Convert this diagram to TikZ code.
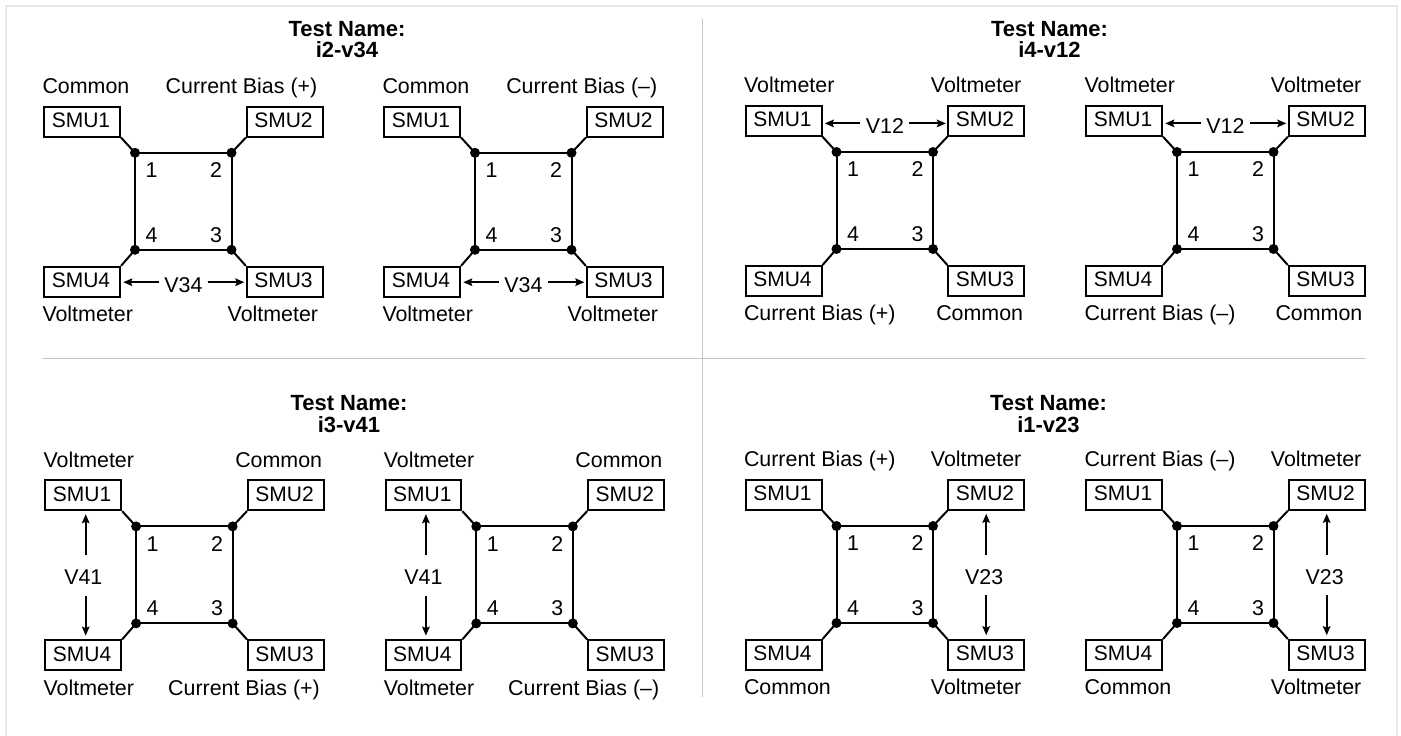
\documentclass[tikz,border=0pt]{standalone}
\usepackage{fontspec}
\setmainfont{Liberation Sans}
\usetikzlibrary{arrows.meta,calc}
\definecolor{rulegrey}{RGB}{196,196,200}
\definecolor{framegrey}{RGB}{232,232,232}
\newcommand{\lblfont}{\fontsize{21.4}{21.4}\selectfont}
\tikzset{
  x=1pt,y=-1pt,
  smu/.style={draw,line width=2pt,minimum width=75.7pt,minimum height=29.7pt,inner sep=0pt,text height=15pt,text depth=3pt,font=\fontsize{21}{21}\selectfont,fill=white},
  lbl/.style={inner sep=0pt,font=\lblfont,text height=15pt,text depth=0pt},
  ttl/.style={inner sep=0pt,align=center,font=\fontsize{22}{21.7}\selectfont\bfseries},
  dot/.style={circle,fill=black,inner sep=0pt,minimum size=10pt},
  wire/.style={line width=2pt},
  vtip/.style={line width=2pt,-{Stealth[length=9pt,width=7.5pt,inset=1.5pt]}},
}
% #1 prefix, #2 x, #3 y of SMU1 box, #4 top-left text, #5 top-right text, #6 its right edge,
% #7 bottom-left text, #8 bottom-right text, #9 its right edge
\newcommand{\rig}[9]{%
  \begin{scope}[shift={(#2,#3)}]
    \node[smu] (#1s1) at (38.7,15.7) {SMU1\kern2.4pt};
    \node[smu] (#1s2) at (241.2,15.7) {SMU2\kern2.4pt};
    \node[smu] (#1s3) at (241.2,175.7) {SMU3\kern2.4pt};
    \node[smu] (#1s4) at (38.7,175.7) {SMU4\kern2.4pt};
    \node[dot] (#1d1) at (91.5,46.8) {};
    \node[dot] (#1d2) at (188,46.8) {};
    \node[dot] (#1d3) at (188,143.8) {};
    \node[dot] (#1d4) at (91.5,143.8) {};
    \draw[wire] (#1d1.center) -- (#1d2.center) -- (#1d3.center) -- (#1d4.center) -- cycle;
    \draw[wire] (#1s1.south east) -- (#1d1.center);
    \draw[wire] (#1s2.south west) -- (#1d2.center);
    \draw[wire] (#1s3.north west) -- (#1d3.center);
    \draw[wire] (#1s4.north east) -- (#1d4.center);
    \node[lbl] (#1n1) at (108,64) {1};
    \node[lbl] (#1n2) at (172.5,64) {2};
    \node[lbl] (#1n3) at (172.5,128.5) {3};
    \node[lbl] (#1n4) at (108,128.5) {4};
    \node[lbl,anchor=west] (#1t1) at (-1.2,-20) {#4};
    \node[lbl,anchor=east] (#1t2) at (#6,-20) {#5};
    \node[lbl,anchor=west] (#1t4) at (-1.2,208) {#7};
    \node[lbl,anchor=east] (#1t3) at (#9,208) {#8};
  \end{scope}}
% horizontal voltage arrows: #1 prefix, #2 left box, #3 right box, #4 text, #5 arrow dy, #6 text dy
\newcommand{\hv}[6]{%
  \node[lbl] (#1v) at ($(#1#2.east)!0.5!(#1#3.west)+(0,#6)$) {#4};
  \coordinate (#1va) at ($(#1#2.east)!0.5!(#1#3.west)+(-24.5,#5)$);
  \coordinate (#1vb) at ($(#1#2.east)!0.5!(#1#3.west)+(24.5,#5)$);
  \draw[vtip,shorten >=2.2pt] (#1va) -- (#1va -| #1#2.east);
  \draw[vtip,shorten >=1.5pt] (#1vb) -- (#1vb -| #1#3.west);}
% vertical voltage arrows: #1 prefix, #2 top box, #3 bottom box, #4 text, #5 arrow dx, #6 text dx
\newcommand{\vv}[6]{%
  \node[lbl] (#1v) at ($(#1#2.south)!0.5!(#1#3.north)+(#6,1.8)$) {#4};
  \coordinate (#1va) at ($(#1#2.south)!0.5!(#1#3.north)+(#5,-20)$);
  \coordinate (#1vb) at ($(#1#2.south)!0.5!(#1#3.north)+(#5,20.5)$);
  \draw[vtip,shorten >=3pt] (#1va) -- (#1va |- #1#2.south);
  \draw[vtip,shorten >=3.8pt] (#1vb) -- (#1vb |- #1#3.north);}
\begin{document}
\begin{tikzpicture}
\useasboundingbox (0,0) rectangle (1401,736);
\fill[white] (0,0) rectangle (1401,736);
\coordinate (fa) at (5.5,736); \coordinate (fb) at (5.5,5.5);
\coordinate (fc) at (1397,5.5); \coordinate (fd) at (1397,736);
\draw[framegrey,line width=2pt] (fa) -- (fb) -- (fc) -- (fd);
\coordinate (vt) at (702.8,19); \coordinate (vb) at (702.8,697);
\coordinate (hl) at (41.5,358.3); \coordinate (hr) at (1365.6,358.3);
\draw[rulegrey,line width=1.1pt] (vt) -- (vb);
\draw[rulegrey,line width=1.1pt] (hl) -- (hr);
\node[ttl] (ta) at (347,39.5) {Test Name:\\i2-v34};
\node[ttl] (tb) at (1049.5,39.5) {Test Name:\\i4-v12};
\node[ttl] (tc) at (349,414) {Test Name:\\i3-v41};
\node[ttl] (td) at (1048.5,414) {Test Name:\\i1-v23};
% top left
\rig{a}{43.5}{106}{Common}{Current Bias (+)}{274}{Voltmeter}{Voltmeter}{274.8}
\hv{a}{s4}{s3}{V34}{0.5}{3.5}
\rig{b}{383.5}{106}{Common}{Current Bias (–)}{274}{Voltmeter}{Voltmeter}{274.8}
\hv{b}{s4}{s3}{V34}{0.5}{3.5}
% top right
\rig{c}{745}{105.2}{Voltmeter}{Voltmeter}{276.5}{Current Bias (+)}{Common}{278.3}
\hv{c}{s1}{s2}{V12}{2.5}{5}
\rig{d}{1085.5}{105.2}{Voltmeter}{Voltmeter}{276}{Current Bias (–)}{Common}{277}
\hv{d}{s1}{s2}{V12}{2.5}{5}
% bottom left
\rig{e}{44.6}{479.6}{Voltmeter}{Common}{277.7}{Voltmeter}{Current Bias (+)}{275.4}
\vv{e}{s1}{s4}{V41}{2.4}{0}
\rig{f}{384.8}{479.6}{Voltmeter}{Common}{277.7}{Voltmeter}{Current Bias (–)}{274.6}
\vv{f}{s1}{s4}{V41}{2.4}{0}
% bottom right
\rig{g}{745}{479.2}{Current Bias (+)}{Voltmeter}{276.5}{Common}{Voltmeter}{276.5}
\vv{g}{s2}{s3}{V23}{0}{-2}
\rig{h}{1085.5}{479.2}{Current Bias (–)}{Voltmeter}{276}{Common}{Voltmeter}{276}
\vv{h}{s2}{s3}{V23}{0}{-2}
\end{tikzpicture}
\end{document}
